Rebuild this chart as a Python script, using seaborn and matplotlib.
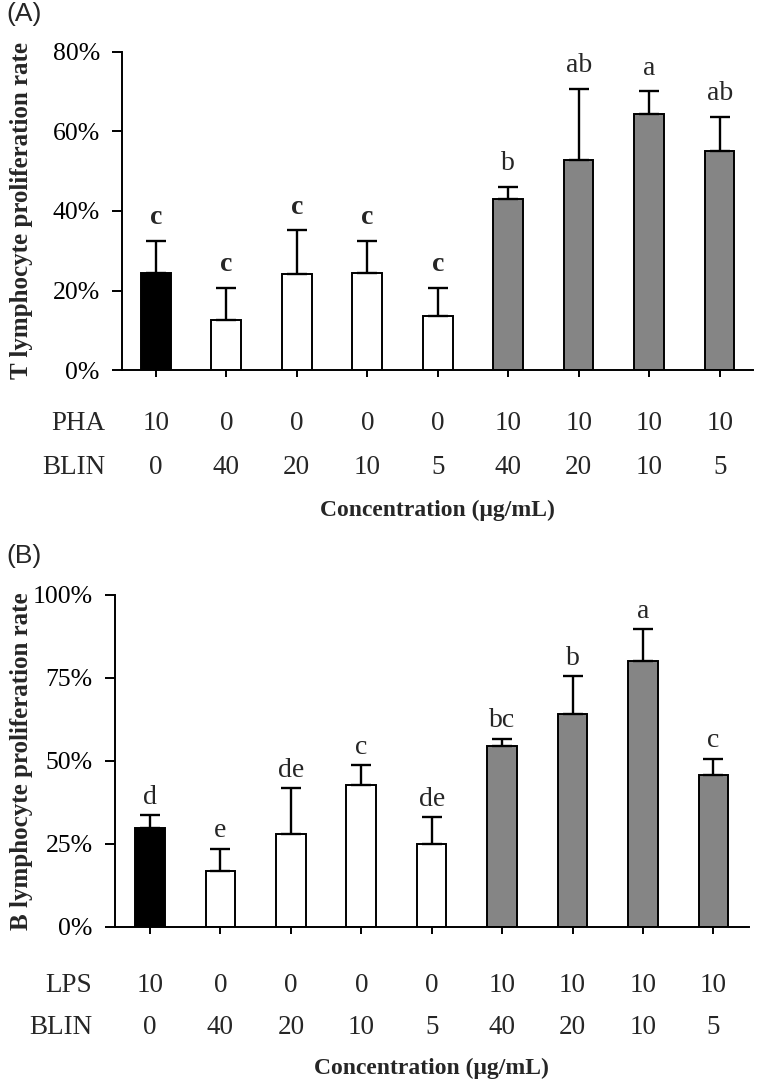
import numpy as np
import pandas as pd
import matplotlib
matplotlib.use("Agg")
import matplotlib.pyplot as plt
import matplotlib.transforms as mtransforms
from matplotlib.ticker import PercentFormatter
import seaborn as sns

# Concentrations (µg/mL) under each bar
pha = ["10", "0", "0", "0", "0", "10", "10", "10", "10"]
lps = ["10", "0", "0", "0", "0", "10", "10", "10", "10"]
blin = ["0", "40", "20", "10", "5", "40", "20", "10", "5"]
kind = ["mitogen", "blin", "blin", "blin", "blin", "both", "both", "both", "both"]

# Panel A: T lymphocyte proliferation (%), mean and SD
t_mean = [24.4, 12.6, 24.1, 24.4, 13.6, 42.9, 52.7, 64.4, 55.1]
t_sd = [8.1, 8.0, 11.0, 8.1, 7.1, 3.2, 18.1, 5.7, 8.5]
t_sig = ["c", "c", "c", "c", "c", "b", "ab", "a", "ab"]

# Panel B: B lymphocyte proliferation (%), mean and SD
b_mean = [29.8, 16.7, 28.1, 42.7, 25.1, 54.4, 64.2, 80.2, 45.6]
b_sd = [3.8, 6.9, 13.6, 6.0, 8.0, 2.3, 11.3, 9.5, 5.1]
b_sig = ["d", "e", "de", "c", "de", "bc", "b", "a", "c"]

palette = {"mitogen": "#000000", "blin": "#ffffff", "both": "#858585"}

sns.set_theme(style="ticks")
plt.rcParams["font.family"] = ["Liberation Serif", "DejaVu Serif"]
plt.rcParams.update({
    "axes.linewidth": 1.4,
    "xtick.major.width": 1.4,
    "ytick.major.width": 1.4,
    "xtick.color": "black",
    "ytick.color": "black",
    "axes.edgecolor": "black",
})

fig = plt.figure(figsize=(7.6, 10.82), dpi=100)
ax_a = fig.add_axes([0.1605, 0.658, 0.830, 0.294])
ax_b = fig.add_axes([0.151, 0.1433, 0.834, 0.307])


def draw_panel(ax, mean, sd, sig, mitogen, mitogen_name, ylabel, ymax, yticks,
               xlim, sig_offset, bold_letters, row_y, label_x, ylabel_x):
    groups = [f"{m}/{b}" for m, b in zip(mitogen, blin)]
    df = pd.DataFrame({"group": groups, "mean": mean, "kind": kind})
    sns.barplot(data=df, x="group", y="mean", hue="kind", order=groups,
                palette=palette, dodge=False, width=0.42, edgecolor="black",
                linewidth=1.4, legend=False, ax=ax)
    x = np.arange(len(groups))
    ax.errorbar(x, mean, yerr=[np.zeros(len(sd)), sd], fmt="none",
                ecolor="black", elinewidth=1.7, capsize=7, capthick=1.7, zorder=3)
    for i, (m, s, lab) in enumerate(zip(mean, sd, sig)):
        ax.annotate(lab, (i, m + s), xytext=(0, sig_offset),
                    textcoords="offset points", ha="center", va="baseline",
                    fontsize=20,
                    fontweight="bold" if lab in bold_letters else "normal")

    ax.set_xlim(*xlim)
    ax.set_ylim(0, ymax)
    ax.set_yticks(yticks)
    ax.yaxis.set_major_formatter(PercentFormatter(decimals=0))
    ax.set_xticks(x, [""] * len(x))
    ax.set_xlabel("")
    ax.tick_params(axis="y", labelsize=18.5, length=7, pad=9, direction="out")
    ax.tick_params(axis="x", length=5, direction="out")
    sns.despine(ax=ax)
    ax.set_ylabel(ylabel, fontsize=18, fontweight="bold")
    ax.yaxis.set_label_coords(ylabel_x, 0.5)

    trans = mtransforms.blended_transform_factory(ax.transData, ax.transAxes)
    ax.text(label_x, row_y[0], mitogen_name, transform=ax.transAxes,
            ha="right", va="center", fontsize=19.5)
    ax.text(label_x, row_y[1], "BLIN", transform=ax.transAxes,
            ha="right", va="center", fontsize=19.5)
    for i in x:
        ax.text(i, row_y[0], mitogen[i], transform=trans, ha="center",
                va="center", fontsize=19.5)
        ax.text(i, row_y[1], blin[i], transform=trans, ha="center",
                va="center", fontsize=19.5)
    ax.text(0.5, row_y[2], "Concentration (μg/mL)", transform=ax.transAxes,
            ha="center", va="center", fontsize=17, fontweight="bold")


draw_panel(ax_a, t_mean, t_sd, t_sig, pha, "PHA",
           "T lymphocyte proliferation rate", 80, [0, 20, 40, 60, 80],
           (-0.48, 8.47), 12, {"c"}, (-0.167, -0.305, -0.44), -0.027, -0.141)
draw_panel(ax_b, b_mean, b_sd, b_sig, lps, "LPS",
           "B lymphocyte proliferation rate", 100, [0, 25, 50, 75, 100],
           (-0.5, 8.5), 8, set(), (-0.175, -0.304, -0.425), -0.036, -0.129)

fig.text(0.009, 0.998, "(A)", ha="left", va="top", fontsize=19,
         family=["Liberation Sans", "DejaVu Sans"])
fig.text(0.009, 0.497, "(B)", ha="left", va="top", fontsize=19,
         family=["Liberation Sans", "DejaVu Sans"])

fig.savefig("out.png", dpi=100, facecolor="white")
